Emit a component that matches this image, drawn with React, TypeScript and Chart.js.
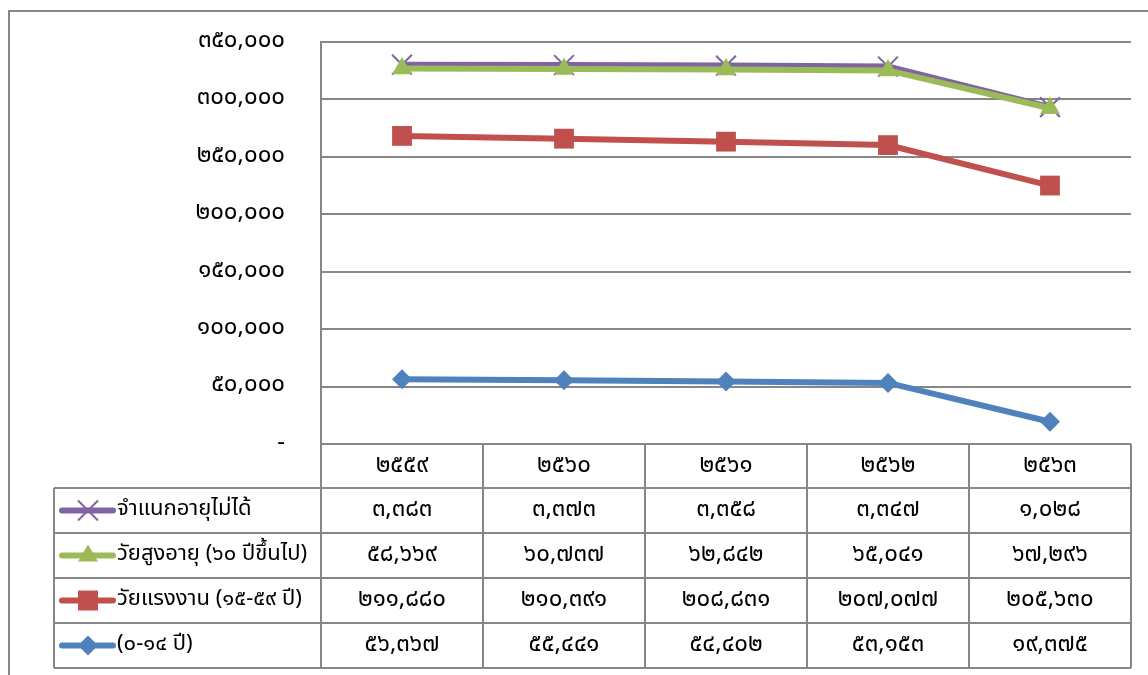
import React, { useEffect, useRef } from 'react';
import { Chart, registerables } from 'chart.js';

Chart.register(...registerables);

const categories = ['๒๕๕๙', '๒๕๖๐', '๒๕๖๑', '๒๕๖๒', '๒๕๖๓'];
const childValues = [56367, 55441, 54402, 53153, 19375];
const workingValues = [211880, 210391, 208831, 207077, 205630];
const elderlyValues = [58669, 60737, 62842, 65041, 67296];
const unknownValues = [3383, 3373, 3358, 3347, 1028];
const seriesLabels = ['(๐-๑๔ ปี)', 'วัยแรงงาน (๑๕-๕๙ ปี)', 'วัยสูงอายุ (๖๐ ปีขึ้นไป)', 'จำแนกอายุไม่ได้'];
const seriesColors = ['#4F81BD', '#C0504D', '#9BBB59', '#8064A2'];
const seriesMarkers = ['rectRot', 'rect', 'triangle', 'crossRot'];
const yMax = 350000;
const yStep = 50000;

const FONT = "Tahoma, 'Noto Sans Thai', 'Noto Sans', sans-serif";
const GRID = '#868686';

const thaiDigits = '๐๑๒๓๔๕๖๗๘๙';
const toThai = (s: string) => s.replace(/[0-9]/g, (d) => thaiDigits[+d]);
const fmt = (n: number) => (n === 0 ? '-' : toThai(n.toLocaleString('en-US')));

function drawMarker(ctx: CanvasRenderingContext2D, kind: string, cx: number, cy: number, color: string) {
  ctx.save();
  ctx.fillStyle = color;
  ctx.strokeStyle = color;
  ctx.beginPath();
  if (kind === 'rectRot') {
    ctx.moveTo(cx - 10, cy);
    ctx.lineTo(cx, cy - 10);
    ctx.lineTo(cx + 10, cy);
    ctx.lineTo(cx, cy + 10);
    ctx.closePath();
    ctx.fill();
  } else if (kind === 'rect') {
    ctx.rect(cx - 10, cy - 10, 20, 20);
    ctx.fill();
  } else if (kind === 'triangle') {
    ctx.moveTo(cx, cy - 11);
    ctx.lineTo(cx + 10, cy + 6);
    ctx.lineTo(cx - 10, cy + 6);
    ctx.closePath();
    ctx.fill();
  } else {
    ctx.lineWidth = 2;
    ctx.moveTo(cx - 10, cy - 10);
    ctx.lineTo(cx + 10, cy + 10);
    ctx.moveTo(cx + 10, cy - 10);
    ctx.lineTo(cx - 10, cy + 10);
    ctx.stroke();
  }
  ctx.restore();
}

const tablePlugin = {
  id: 'dataTable',
  afterDraw(chart: any) {
    const ctx: CanvasRenderingContext2D = chart.ctx;
    const area = chart.chartArea;
    const xs = chart.scales.x;
    const n = categories.length;
    const colW = (area.right - area.left) / n;
    const top = area.bottom;
    const headerBottom = top + 44;
    const rowH = 45;
    const legendLeft = 54;
    const rows = seriesLabels.length;
    const tableBottom = headerBottom + rowH * rows;

    ctx.save();
    // outer frame
    ctx.strokeStyle = GRID;
    ctx.lineWidth = 2;
    ctx.beginPath();
    ctx.moveTo(9, chart.height);
    ctx.lineTo(9, 11);
    ctx.lineTo(chart.width, 11);
    ctx.stroke();

    // table lines
    ctx.beginPath();
    for (let i = 0; i <= n; i++) {
      const x = Math.round(area.left + colW * i);
      ctx.moveTo(x, top);
      ctx.lineTo(x, tableBottom);
    }
    ctx.moveTo(legendLeft, headerBottom);
    ctx.lineTo(legendLeft, tableBottom);
    for (let r = 0; r <= rows; r++) {
      const y = Math.round(headerBottom + rowH * r);
      ctx.moveTo(legendLeft, y);
      ctx.lineTo(area.right, y);
    }
    ctx.stroke();

    // header
    ctx.fillStyle = '#000';
    ctx.textAlign = 'center';
    ctx.textBaseline = 'middle';
    ctx.font = `24px ${FONT}`;
    categories.forEach((c, i) => {
      ctx.fillText(c, xs.getPixelForValue(i), (top + headerBottom) / 2 + 1);
    });

    // rows (top to bottom: last dataset first)
    for (let r = 0; r < rows; r++) {
      const di = rows - 1 - r;
      const ds = chart.data.datasets[di];
      const cy = headerBottom + rowH * r + rowH / 2;
      const color = seriesColors[di];
      // legend key
      ctx.strokeStyle = color;
      ctx.lineWidth = 6;
      ctx.lineCap = 'round';
      ctx.beginPath();
      ctx.moveTo(62, cy);
      ctx.lineTo(113, cy);
      ctx.stroke();
      ctx.lineCap = 'butt';
      drawMarker(ctx, seriesMarkers[di], 88, cy, color);
      ctx.fillStyle = '#000';
      ctx.textAlign = 'left';
      ctx.font = `22px ${FONT}`;
      ctx.fillText(seriesLabels[di], 117, cy);
      ctx.textAlign = 'center';
      ctx.font = `24px ${FONT}`;
      (ds.data as number[]).forEach((v, i) => {
        ctx.fillText(fmt(v), xs.getPixelForValue(i), cy + 1);
      });
    }
    ctx.restore();
  },
};

export default function App() {
  const ref = useRef<HTMLCanvasElement>(null);
  useEffect(() => {
    if (!ref.current) return;
    Chart.defaults.font.family = FONT;
    const allSeries = [childValues, workingValues, elderlyValues, unknownValues];
    const radii = [10, 14, 11.5, 14];
    const chart = new Chart(ref.current, {
      type: 'line',
      data: {
        labels: categories,
        datasets: allSeries.map((d, i) => ({
          label: seriesLabels[i],
          data: d,
          borderColor: seriesColors[i],
          backgroundColor: seriesColors[i],
          pointBackgroundColor: seriesColors[i],
          pointBorderColor: seriesColors[i],
          borderWidth: 6,
          pointStyle: seriesMarkers[i] as any,
          pointRadius: radii[i],
          pointBorderWidth: i === 3 ? 2 : 0,
          fill: false,
          tension: 0,
        })),
      },
      options: {
        animation: false,
        responsive: false,
        maintainAspectRatio: false,
        events: [],
        layout: { padding: { top: 42, right: 17, left: 0, bottom: 0 } },
        plugins: { legend: { display: false }, tooltip: { enabled: false }, title: { display: false } },
        scales: {
          x: {
            offset: true,
            grid: { display: false },
            border: { display: false },
            ticks: { display: false },
            afterFit: (s: any) => { s.height = 231; s.paddingLeft = 0; s.paddingRight = 0; },
          },
          y: {
            stacked: true,
            min: 0,
            max: yMax,
            ticks: {
              stepSize: yStep,
              padding: 36,
              color: '#000',
              font: { size: 24, family: FONT },
              callback: (v: any) => fmt(Number(v)),
            },
            grid: { color: GRID, lineWidth: 2, drawTicks: false },
            border: { display: true, color: GRID, width: 2 },
            afterFit: (s: any) => { s.width = 321; s.paddingTop = 0; s.paddingBottom = 0; },
          },
        },
      },
      plugins: [tablePlugin],
    });
    return () => chart.destroy();
  }, []);
  return (
    <div style={{ position: 'fixed', left: 0, top: 0, width: 1148, height: 675, background: '#fff', overflow: 'hidden' }}>
      <canvas ref={ref} width={1148} height={675} style={{ display: 'block', width: 1148, height: 675 }} />
    </div>
  );
}
